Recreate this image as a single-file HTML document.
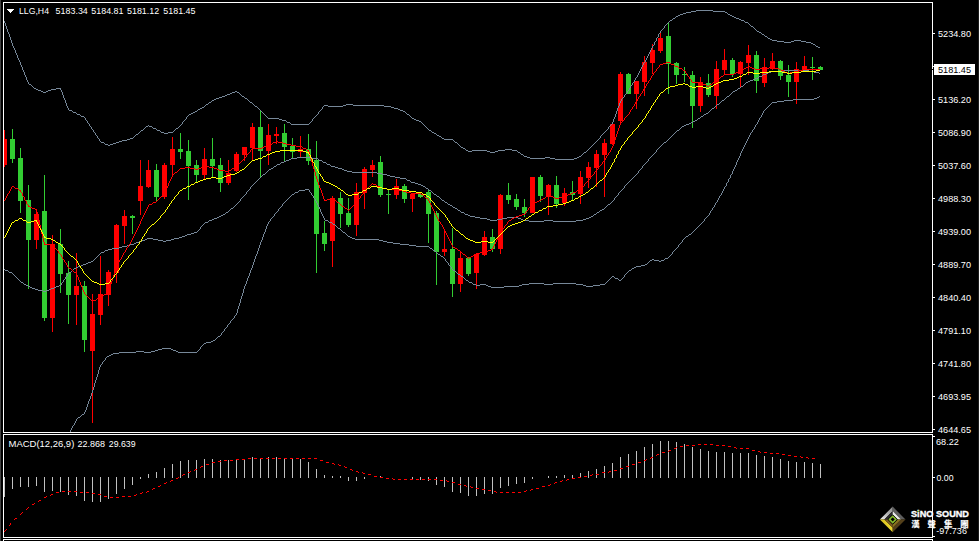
<!DOCTYPE html>
<html lang="zh-Hant"><head><meta charset="utf-8"><title>LLG,H4</title>
<style>
html,body{margin:0;padding:0;background:#000;}
body{width:979px;height:541px;overflow:hidden;position:relative;font-family:"Liberation Sans","Noto Sans CJK TC",sans-serif;}
svg{position:absolute;left:0;top:0;display:block}
.t{font-family:"Liberation Sans",sans-serif;font-size:9.7px;fill:#fff}
.cj{font-family:"Liberation Sans","Noto Sans CJK TC",sans-serif;font-weight:bold;font-size:8.4px;fill:#fff;stroke:#fff;stroke-width:0.2px}
</style></head><body>
<svg width="979" height="541" viewBox="0 0 979 541">
<rect x="0" y="0" width="979" height="541" fill="#000"/>
<rect x="0" y="0" width="1" height="541" fill="#404040"/>
<rect x="978" y="0" width="1" height="541" fill="#1c1c1c"/>
<g fill="none" stroke="#fff" stroke-width="1" shape-rendering="crispEdges">
<rect x="3.5" y="2.5" width="929" height="430"/>
<rect x="3.5" y="434.5" width="929" height="103"/>
<path d="M3.5 541V539.5H932.5V541"/>
<path d="M933 33.5H935M933 66.5H935M933 99.5H935M933 132.5H935M933 165.5H935M933 198.5H935M933 231.5H935M933 264.5H935M933 297.5H935M933 330.5H935M933 363.5H935M933 396.5H935M933 429.5H935M933 436.5H935M933 477.5H935M933 536.5H935"/>
</g>
<defs><clipPath id="c1"><rect x="4" y="3" width="928" height="429"/></clipPath><clipPath id="c2"><rect x="4" y="435" width="928" height="102"/></clipPath></defs>
<g clip-path="url(#c1)">
<g shape-rendering="crispEdges">
<rect x="4" y="130" width="1" height="37" fill="#FF0000"/>
<rect x="2" y="139" width="5" height="26" fill="#FF0000"/>
<rect x="12" y="129" width="1" height="34" fill="#32CD32"/>
<rect x="10" y="139" width="5" height="20" fill="#32CD32"/>
<rect x="20" y="148" width="1" height="65" fill="#32CD32"/>
<rect x="18" y="158" width="5" height="43" fill="#32CD32"/>
<rect x="28" y="185" width="1" height="104" fill="#32CD32"/>
<rect x="26" y="200" width="5" height="40" fill="#32CD32"/>
<rect x="36" y="209" width="1" height="40" fill="#FF0000"/>
<rect x="34" y="214" width="5" height="26" fill="#FF0000"/>
<rect x="44" y="175" width="1" height="146" fill="#32CD32"/>
<rect x="42" y="211" width="5" height="107" fill="#32CD32"/>
<rect x="52" y="235" width="1" height="97" fill="#FF0000"/>
<rect x="50" y="244" width="5" height="74" fill="#FF0000"/>
<rect x="60" y="229" width="1" height="64" fill="#32CD32"/>
<rect x="58" y="244" width="5" height="30" fill="#32CD32"/>
<rect x="68" y="261" width="1" height="63" fill="#32CD32"/>
<rect x="66" y="273" width="5" height="22" fill="#32CD32"/>
<rect x="76" y="253" width="1" height="72" fill="#FF0000"/>
<rect x="74" y="286" width="5" height="9" fill="#FF0000"/>
<rect x="84" y="281" width="1" height="71" fill="#32CD32"/>
<rect x="82" y="286" width="5" height="54" fill="#32CD32"/>
<rect x="92" y="294" width="1" height="129" fill="#FF0000"/>
<rect x="90" y="314" width="5" height="37" fill="#FF0000"/>
<rect x="100" y="256" width="1" height="69" fill="#FF0000"/>
<rect x="98" y="294" width="5" height="21" fill="#FF0000"/>
<rect x="108" y="270" width="1" height="36" fill="#FF0000"/>
<rect x="106" y="272" width="5" height="23" fill="#FF0000"/>
<rect x="116" y="224" width="1" height="59" fill="#FF0000"/>
<rect x="114" y="225" width="5" height="48" fill="#FF0000"/>
<rect x="124" y="210" width="1" height="34" fill="#FF0000"/>
<rect x="122" y="216" width="5" height="10" fill="#FF0000"/>
<rect x="132" y="215" width="1" height="19" fill="#32CD32"/>
<rect x="130" y="216" width="5" height="2" fill="#32CD32"/>
<rect x="140" y="160" width="1" height="55" fill="#FF0000"/>
<rect x="138" y="186" width="5" height="15" fill="#FF0000"/>
<rect x="148" y="160" width="1" height="28" fill="#FF0000"/>
<rect x="146" y="170" width="5" height="17" fill="#FF0000"/>
<rect x="156" y="164" width="1" height="38" fill="#32CD32"/>
<rect x="154" y="170" width="5" height="27" fill="#32CD32"/>
<rect x="164" y="163" width="1" height="36" fill="#FF0000"/>
<rect x="162" y="165" width="5" height="32" fill="#FF0000"/>
<rect x="172" y="137" width="1" height="39" fill="#FF0000"/>
<rect x="170" y="149" width="5" height="16" fill="#FF0000"/>
<rect x="180" y="133" width="1" height="26" fill="#32CD32"/>
<rect x="178" y="149" width="5" height="3" fill="#32CD32"/>
<rect x="188" y="140" width="1" height="60" fill="#32CD32"/>
<rect x="186" y="151" width="5" height="15" fill="#32CD32"/>
<rect x="196" y="160" width="1" height="23" fill="#32CD32"/>
<rect x="194" y="165" width="5" height="10" fill="#32CD32"/>
<rect x="204" y="148" width="1" height="31" fill="#FF0000"/>
<rect x="202" y="159" width="5" height="16" fill="#FF0000"/>
<rect x="212" y="138" width="1" height="39" fill="#32CD32"/>
<rect x="210" y="159" width="5" height="7" fill="#32CD32"/>
<rect x="220" y="158" width="1" height="34" fill="#32CD32"/>
<rect x="218" y="165" width="5" height="18" fill="#32CD32"/>
<rect x="228" y="160" width="1" height="25" fill="#FF0000"/>
<rect x="226" y="173" width="5" height="10" fill="#FF0000"/>
<rect x="236" y="152" width="1" height="20" fill="#FF0000"/>
<rect x="234" y="154" width="5" height="17" fill="#FF0000"/>
<rect x="244" y="147" width="1" height="14" fill="#FF0000"/>
<rect x="242" y="147" width="5" height="8" fill="#FF0000"/>
<rect x="252" y="123" width="1" height="37" fill="#FF0000"/>
<rect x="250" y="127" width="5" height="21" fill="#FF0000"/>
<rect x="260" y="110" width="1" height="67" fill="#32CD32"/>
<rect x="258" y="127" width="5" height="24" fill="#32CD32"/>
<rect x="268" y="124" width="1" height="41" fill="#FF0000"/>
<rect x="266" y="135" width="5" height="16" fill="#FF0000"/>
<rect x="276" y="127" width="1" height="17" fill="#FF0000"/>
<rect x="274" y="134" width="5" height="2" fill="#FF0000"/>
<rect x="284" y="124" width="1" height="37" fill="#32CD32"/>
<rect x="282" y="133" width="5" height="14" fill="#32CD32"/>
<rect x="292" y="138" width="1" height="21" fill="#32CD32"/>
<rect x="290" y="146" width="5" height="6" fill="#32CD32"/>
<rect x="300" y="136" width="1" height="21" fill="#FF0000"/>
<rect x="298" y="149" width="5" height="3" fill="#FF0000"/>
<rect x="308" y="134" width="1" height="31" fill="#32CD32"/>
<rect x="306" y="149" width="5" height="12" fill="#32CD32"/>
<rect x="316" y="141" width="1" height="132" fill="#32CD32"/>
<rect x="314" y="160" width="5" height="74" fill="#32CD32"/>
<rect x="324" y="221" width="1" height="30" fill="#32CD32"/>
<rect x="322" y="233" width="5" height="11" fill="#32CD32"/>
<rect x="332" y="196" width="1" height="71" fill="#FF0000"/>
<rect x="330" y="198" width="5" height="43" fill="#FF0000"/>
<rect x="340" y="192" width="1" height="36" fill="#32CD32"/>
<rect x="338" y="198" width="5" height="16" fill="#32CD32"/>
<rect x="348" y="198" width="1" height="29" fill="#32CD32"/>
<rect x="346" y="213" width="5" height="12" fill="#32CD32"/>
<rect x="356" y="183" width="1" height="53" fill="#FF0000"/>
<rect x="354" y="192" width="5" height="33" fill="#FF0000"/>
<rect x="364" y="167" width="1" height="42" fill="#FF0000"/>
<rect x="362" y="169" width="5" height="24" fill="#FF0000"/>
<rect x="372" y="160" width="1" height="17" fill="#FF0000"/>
<rect x="370" y="165" width="5" height="5" fill="#FF0000"/>
<rect x="380" y="156" width="1" height="41" fill="#32CD32"/>
<rect x="378" y="162" width="5" height="33" fill="#32CD32"/>
<rect x="388" y="190" width="1" height="24" fill="#32CD32"/>
<rect x="386" y="194" width="5" height="1" fill="#32CD32"/>
<rect x="396" y="179" width="1" height="20" fill="#FF0000"/>
<rect x="394" y="186" width="5" height="9" fill="#FF0000"/>
<rect x="404" y="184" width="1" height="19" fill="#32CD32"/>
<rect x="402" y="186" width="5" height="13" fill="#32CD32"/>
<rect x="412" y="193" width="1" height="19" fill="#FF0000"/>
<rect x="410" y="194" width="5" height="5" fill="#FF0000"/>
<rect x="420" y="193" width="1" height="5" fill="#32CD32"/>
<rect x="418" y="194" width="5" height="3" fill="#32CD32"/>
<rect x="428" y="190" width="1" height="53" fill="#32CD32"/>
<rect x="426" y="192" width="5" height="22" fill="#32CD32"/>
<rect x="436" y="211" width="1" height="74" fill="#32CD32"/>
<rect x="434" y="213" width="5" height="39" fill="#32CD32"/>
<rect x="444" y="231" width="1" height="25" fill="#FF0000"/>
<rect x="442" y="249" width="5" height="3" fill="#FF0000"/>
<rect x="452" y="228" width="1" height="69" fill="#32CD32"/>
<rect x="450" y="249" width="5" height="35" fill="#32CD32"/>
<rect x="460" y="251" width="1" height="41" fill="#FF0000"/>
<rect x="458" y="258" width="5" height="26" fill="#FF0000"/>
<rect x="468" y="257" width="1" height="19" fill="#32CD32"/>
<rect x="466" y="258" width="5" height="16" fill="#32CD32"/>
<rect x="476" y="253" width="1" height="36" fill="#FF0000"/>
<rect x="474" y="254" width="5" height="19" fill="#FF0000"/>
<rect x="484" y="231" width="1" height="25" fill="#FF0000"/>
<rect x="482" y="237" width="5" height="18" fill="#FF0000"/>
<rect x="492" y="229" width="1" height="23" fill="#32CD32"/>
<rect x="490" y="237" width="5" height="12" fill="#32CD32"/>
<rect x="500" y="194" width="1" height="60" fill="#FF0000"/>
<rect x="498" y="195" width="5" height="54" fill="#FF0000"/>
<rect x="508" y="183" width="1" height="21" fill="#32CD32"/>
<rect x="506" y="195" width="5" height="5" fill="#32CD32"/>
<rect x="516" y="194" width="1" height="16" fill="#32CD32"/>
<rect x="514" y="199" width="5" height="8" fill="#32CD32"/>
<rect x="524" y="199" width="1" height="18" fill="#32CD32"/>
<rect x="522" y="207" width="5" height="6" fill="#32CD32"/>
<rect x="532" y="177" width="1" height="36" fill="#FF0000"/>
<rect x="530" y="177" width="5" height="36" fill="#FF0000"/>
<rect x="540" y="175" width="1" height="27" fill="#32CD32"/>
<rect x="538" y="177" width="5" height="19" fill="#32CD32"/>
<rect x="548" y="184" width="1" height="31" fill="#FF0000"/>
<rect x="546" y="185" width="5" height="12" fill="#FF0000"/>
<rect x="556" y="176" width="1" height="32" fill="#32CD32"/>
<rect x="554" y="185" width="5" height="19" fill="#32CD32"/>
<rect x="564" y="188" width="1" height="18" fill="#FF0000"/>
<rect x="562" y="193" width="5" height="10" fill="#FF0000"/>
<rect x="572" y="181" width="1" height="20" fill="#32CD32"/>
<rect x="570" y="192" width="5" height="3" fill="#32CD32"/>
<rect x="580" y="171" width="1" height="33" fill="#FF0000"/>
<rect x="578" y="177" width="5" height="17" fill="#FF0000"/>
<rect x="588" y="162" width="1" height="26" fill="#FF0000"/>
<rect x="586" y="167" width="5" height="11" fill="#FF0000"/>
<rect x="596" y="150" width="1" height="37" fill="#FF0000"/>
<rect x="594" y="154" width="5" height="14" fill="#FF0000"/>
<rect x="604" y="139" width="1" height="58" fill="#FF0000"/>
<rect x="602" y="143" width="5" height="12" fill="#FF0000"/>
<rect x="612" y="124" width="1" height="21" fill="#FF0000"/>
<rect x="610" y="124" width="5" height="20" fill="#FF0000"/>
<rect x="620" y="72" width="1" height="52" fill="#FF0000"/>
<rect x="618" y="74" width="5" height="47" fill="#FF0000"/>
<rect x="628" y="73" width="1" height="21" fill="#32CD32"/>
<rect x="626" y="74" width="5" height="20" fill="#32CD32"/>
<rect x="636" y="81" width="1" height="28" fill="#FF0000"/>
<rect x="634" y="81" width="5" height="13" fill="#FF0000"/>
<rect x="644" y="56" width="1" height="40" fill="#FF0000"/>
<rect x="642" y="62" width="5" height="20" fill="#FF0000"/>
<rect x="652" y="44" width="1" height="30" fill="#FF0000"/>
<rect x="650" y="50" width="5" height="13" fill="#FF0000"/>
<rect x="660" y="31" width="1" height="22" fill="#FF0000"/>
<rect x="658" y="38" width="5" height="13" fill="#FF0000"/>
<rect x="668" y="23" width="1" height="71" fill="#32CD32"/>
<rect x="666" y="36" width="5" height="28" fill="#32CD32"/>
<rect x="676" y="62" width="1" height="22" fill="#32CD32"/>
<rect x="674" y="63" width="5" height="12" fill="#32CD32"/>
<rect x="684" y="67" width="1" height="15" fill="#32CD32"/>
<rect x="682" y="74" width="5" height="1" fill="#32CD32"/>
<rect x="692" y="71" width="1" height="57" fill="#32CD32"/>
<rect x="690" y="75" width="5" height="31" fill="#32CD32"/>
<rect x="700" y="77" width="1" height="35" fill="#FF0000"/>
<rect x="698" y="82" width="5" height="24" fill="#FF0000"/>
<rect x="708" y="74" width="1" height="23" fill="#32CD32"/>
<rect x="706" y="83" width="5" height="12" fill="#32CD32"/>
<rect x="716" y="61" width="1" height="48" fill="#FF0000"/>
<rect x="714" y="69" width="5" height="27" fill="#FF0000"/>
<rect x="724" y="49" width="1" height="25" fill="#FF0000"/>
<rect x="722" y="60" width="5" height="10" fill="#FF0000"/>
<rect x="732" y="58" width="1" height="19" fill="#32CD32"/>
<rect x="730" y="60" width="5" height="14" fill="#32CD32"/>
<rect x="740" y="61" width="1" height="26" fill="#FF0000"/>
<rect x="738" y="62" width="5" height="12" fill="#FF0000"/>
<rect x="748" y="45" width="1" height="30" fill="#FF0000"/>
<rect x="746" y="55" width="5" height="8" fill="#FF0000"/>
<rect x="756" y="51" width="1" height="42" fill="#32CD32"/>
<rect x="754" y="55" width="5" height="26" fill="#32CD32"/>
<rect x="764" y="58" width="1" height="29" fill="#FF0000"/>
<rect x="762" y="67" width="5" height="16" fill="#FF0000"/>
<rect x="772" y="53" width="1" height="17" fill="#FF0000"/>
<rect x="770" y="61" width="5" height="8" fill="#FF0000"/>
<rect x="780" y="60" width="1" height="20" fill="#32CD32"/>
<rect x="778" y="61" width="5" height="15" fill="#32CD32"/>
<rect x="788" y="65" width="1" height="32" fill="#32CD32"/>
<rect x="786" y="75" width="5" height="7" fill="#32CD32"/>
<rect x="796" y="62" width="1" height="42" fill="#FF0000"/>
<rect x="794" y="69" width="5" height="13" fill="#FF0000"/>
<rect x="804" y="56" width="1" height="15" fill="#FF0000"/>
<rect x="802" y="66" width="5" height="5" fill="#FF0000"/>
<rect x="812" y="57" width="1" height="23" fill="#32CD32"/>
<rect x="810" y="67" width="5" height="1" fill="#32CD32"/>
<rect x="820" y="66" width="1" height="4" fill="#32CD32"/>
<rect x="818" y="67" width="5" height="3" fill="#32CD32"/>
</g>
<g fill="none" stroke-width="1" shape-rendering="crispEdges">
<path fill="#778899" stroke="none" d="M745 22h3v1h-3zM751 26h2v1h-2zM757 31h2v1h-2zM759 32h2v1h-2zM762 34h2v1h-2zM765 36h2v1h-2zM768 38h2v1h-2zM770 39h2v1h-2zM772 40h5v1h-5zM794 40h7v1h-7zM777 41h7v1h-7zM791 41h3v1h-3zM801 41h5v1h-5zM784 42h7v1h-7zM806 42h5v1h-5zM811 43h2v1h-2zM813 44h2v1h-2zM816 46h2v1h-2zM818 47h2v1h-2zM29 84h2v1h-2zM34 88h2v1h-2zM56 88h5v1h-5zM36 89h2v1h-2zM51 89h5v1h-5zM38 90h3v1h-3zM48 90h3v1h-3zM41 91h2v1h-2zM46 91h2v1h-2zM235 91h2v1h-2zM43 92h3v1h-3zM232 92h3v1h-3zM237 92h2v1h-2zM230 93h2v1h-2zM227 94h3v1h-3zM225 95h2v1h-2zM222 96h3v1h-3zM242 96h2v1h-2zM219 97h3v1h-3zM216 98h3v1h-3zM245 98h2v1h-2zM214 99h2v1h-2zM212 100h2v1h-2zM209 102h2v1h-2zM250 102h2v1h-2zM206 104h2v1h-2zM346 104h7v1h-7zM324 105h4v1h-4zM343 105h3v1h-3zM353 105h31v1h-31zM255 106h2v1h-2zM328 106h15v1h-15zM384 106h7v1h-7zM202 107h2v1h-2zM391 107h3v1h-3zM200 108h2v1h-2zM394 108h4v1h-4zM198 109h2v1h-2zM398 109h2v1h-2zM69 110h3v1h-3zM400 110h3v1h-3zM195 111h2v1h-2zM403 111h2v1h-2zM73 112h3v1h-3zM193 112h2v1h-2zM191 113h2v1h-2zM77 114h3v1h-3zM189 114h2v1h-2zM407 114h2v1h-2zM81 116h3v1h-3zM268 118h11v1h-11zM412 118h2v1h-2zM279 119h3v1h-3zM414 119h2v1h-2zM282 120h4v1h-4zM416 120h3v1h-3zM419 121h2v1h-2zM287 122h3v1h-3zM291 124h18v1h-18zM146 126h2v1h-2zM149 126h3v1h-3zM153 128h3v1h-3zM176 128h2v1h-2zM141 130h2v1h-2zM157 130h3v1h-3zM429 130h2v1h-2zM161 132h3v1h-3zM168 132h5v1h-5zM432 132h2v1h-2zM164 133h4v1h-4zM434 133h2v1h-2zM136 134h2v1h-2zM437 135h2v1h-2zM439 136h2v1h-2zM130 138h3v1h-3zM442 138h2v1h-2zM127 139h3v1h-3zM444 139h9v1h-9zM122 140h5v1h-5zM119 141h3v1h-3zM101 142h3v1h-3zM116 142h3v1h-3zM455 142h2v1h-2zM113 143h3v1h-3zM105 144h3v1h-3zM110 144h3v1h-3zM108 145h2v1h-2zM461 147h2v1h-2zM463 148h2v1h-2zM505 149h7v1h-7zM466 150h2v1h-2zM472 150h15v1h-15zM498 150h7v1h-7zM512 150h5v1h-5zM468 151h4v1h-4zM487 151h3v1h-3zM495 151h3v1h-3zM490 152h5v1h-5zM518 152h2v1h-2zM584 152h2v1h-2zM521 154h2v1h-2zM524 156h3v1h-3zM579 156h2v1h-2zM527 157h3v1h-3zM545 157h5v1h-5zM577 157h2v1h-2zM530 158h15v1h-15zM550 158h5v1h-5zM574 158h3v1h-3zM555 159h19v1h-19zM670 20h2v1h-2zM741 20h3v1h-3zM739 19h2v1h-2zM673 18h2v1h-2zM736 18h3v1h-3zM734 17h2v1h-2zM676 16h2v1h-2zM732 16h2v1h-2zM678 15h2v1h-2zM730 15h2v1h-2zM680 14h3v1h-3zM728 14h2v1h-2zM683 13h3v1h-3zM686 12h5v1h-5zM725 12h2v1h-2zM691 11h5v1h-5zM713 11h12v1h-12zM696 10h17v1h-17zM4 21h1v2h-1zM669 21h1v1h-1zM744 21h1v1h-1zM668 22h1v1h-1zM5 23h1v3h-1zM667 23h1v1h-1zM748 23h1v1h-1zM666 24h1v1h-1zM749 24h1v1h-1zM665 25h1v1h-1zM750 25h1v1h-1zM6 26h1v3h-1zM664 26h1v2h-1zM753 27h1v1h-1zM663 28h1v1h-1zM754 28h1v1h-1zM7 29h1v3h-1zM662 29h1v1h-1zM755 29h1v1h-1zM661 30h1v1h-1zM756 30h1v1h-1zM660 31h1v2h-1zM8 32h1v2h-1zM659 33h1v1h-1zM761 33h1v1h-1zM9 34h1v3h-1zM658 34h1v3h-1zM764 35h1v1h-1zM10 37h1v3h-1zM657 37h1v1h-1zM767 37h1v1h-1zM656 38h1v3h-1zM11 40h1v3h-1zM655 41h1v1h-1zM654 42h1v3h-1zM12 43h1v3h-1zM653 45h1v1h-1zM815 45h1v1h-1zM13 46h1v2h-1zM652 46h1v2h-1zM14 48h1v2h-1zM651 48h1v2h-1zM15 50h1v3h-1zM650 50h1v2h-1zM649 52h1v2h-1zM16 53h1v2h-1zM648 54h1v2h-1zM17 55h1v3h-1zM647 56h1v2h-1zM18 58h1v2h-1zM646 58h1v2h-1zM19 60h1v2h-1zM645 60h1v2h-1zM20 62h1v3h-1zM644 62h1v1h-1zM643 63h1v2h-1zM21 65h1v2h-1zM642 65h1v2h-1zM22 67h1v3h-1zM641 67h1v2h-1zM640 69h1v2h-1zM23 70h1v2h-1zM639 71h1v2h-1zM24 72h1v3h-1zM638 73h1v2h-1zM25 75h1v2h-1zM637 75h1v2h-1zM26 77h1v3h-1zM636 77h1v1h-1zM635 78h1v2h-1zM27 80h1v2h-1zM634 80h1v2h-1zM28 82h1v2h-1zM633 82h1v1h-1zM632 83h1v2h-1zM31 85h1v1h-1zM631 85h1v1h-1zM32 86h1v1h-1zM630 86h1v2h-1zM33 87h1v1h-1zM629 88h1v2h-1zM60 89h1v1h-1zM61 90h1v2h-1zM628 90h1v1h-1zM627 91h1v2h-1zM62 92h1v3h-1zM239 93h1v1h-1zM626 93h1v1h-1zM240 94h1v1h-1zM625 94h1v1h-1zM63 95h1v3h-1zM241 95h1v1h-1zM624 95h1v2h-1zM244 97h1v1h-1zM623 97h1v1h-1zM64 98h1v2h-1zM622 98h1v1h-1zM247 99h1v1h-1zM621 99h1v2h-1zM65 100h1v3h-1zM248 100h1v1h-1zM211 101h1v1h-1zM249 101h1v1h-1zM620 101h1v2h-1zM66 103h1v3h-1zM208 103h1v1h-1zM252 103h1v1h-1zM619 103h1v3h-1zM253 104h1v1h-1zM205 105h1v1h-1zM254 105h1v1h-1zM67 106h1v2h-1zM204 106h1v1h-1zM323 106h1v1h-1zM618 106h1v2h-1zM257 107h1v1h-1zM322 107h1v2h-1zM68 108h1v2h-1zM258 108h1v1h-1zM617 108h1v3h-1zM259 109h1v1h-1zM321 109h1v1h-1zM197 110h1v1h-1zM260 110h1v1h-1zM320 110h1v1h-1zM72 111h1v1h-1zM261 111h1v1h-1zM319 111h1v1h-1zM616 111h1v3h-1zM262 112h1v1h-1zM318 112h1v2h-1zM405 112h1v1h-1zM76 113h1v1h-1zM263 113h1v1h-1zM406 113h1v1h-1zM264 114h1v1h-1zM317 114h1v1h-1zM615 114h1v3h-1zM80 115h1v1h-1zM188 115h1v1h-1zM265 115h1v1h-1zM316 115h1v1h-1zM409 115h1v1h-1zM187 116h1v1h-1zM266 116h1v1h-1zM315 116h1v1h-1zM410 116h1v1h-1zM84 117h1v1h-1zM186 117h1v2h-1zM267 117h1v1h-1zM314 117h1v1h-1zM411 117h1v1h-1zM614 117h1v2h-1zM85 118h1v2h-1zM313 118h1v1h-1zM185 119h1v1h-1zM312 119h1v2h-1zM613 119h1v3h-1zM86 120h1v1h-1zM184 120h1v1h-1zM87 121h1v2h-1zM183 121h1v1h-1zM286 121h1v1h-1zM311 121h1v1h-1zM182 122h1v2h-1zM310 122h1v1h-1zM421 122h1v1h-1zM612 122h1v2h-1zM88 123h1v1h-1zM290 123h1v1h-1zM309 123h1v1h-1zM422 123h1v1h-1zM89 124h1v2h-1zM181 124h1v1h-1zM423 124h1v1h-1zM611 124h1v1h-1zM148 125h1v1h-1zM180 125h1v1h-1zM424 125h1v1h-1zM610 125h1v1h-1zM90 126h1v1h-1zM179 126h1v1h-1zM425 126h1v1h-1zM609 126h1v1h-1zM91 127h1v2h-1zM145 127h1v1h-1zM152 127h1v1h-1zM178 127h1v1h-1zM426 127h1v1h-1zM608 127h1v2h-1zM144 128h1v1h-1zM427 128h1v1h-1zM92 129h1v1h-1zM143 129h1v1h-1zM156 129h1v1h-1zM175 129h1v1h-1zM428 129h1v1h-1zM607 129h1v1h-1zM93 130h1v2h-1zM174 130h1v1h-1zM606 130h1v1h-1zM140 131h1v1h-1zM160 131h1v1h-1zM173 131h1v1h-1zM431 131h1v1h-1zM605 131h1v1h-1zM94 132h1v1h-1zM139 132h1v1h-1zM604 132h1v1h-1zM95 133h1v2h-1zM138 133h1v1h-1zM603 133h1v1h-1zM436 134h1v1h-1zM602 134h1v1h-1zM96 135h1v1h-1zM135 135h1v1h-1zM601 135h1v1h-1zM97 136h1v2h-1zM134 136h1v1h-1zM600 136h1v2h-1zM133 137h1v1h-1zM441 137h1v1h-1zM98 138h1v1h-1zM599 138h1v1h-1zM99 139h1v2h-1zM598 139h1v1h-1zM453 140h1v1h-1zM597 140h1v1h-1zM100 141h1v1h-1zM454 141h1v1h-1zM596 141h1v1h-1zM595 142h1v1h-1zM104 143h1v1h-1zM457 143h1v1h-1zM594 143h1v1h-1zM458 144h1v1h-1zM593 144h1v1h-1zM459 145h1v1h-1zM592 145h1v1h-1zM460 146h1v1h-1zM591 146h1v1h-1zM590 147h1v1h-1zM589 148h1v1h-1zM465 149h1v1h-1zM588 149h1v1h-1zM587 150h1v1h-1zM517 151h1v1h-1zM586 151h1v1h-1zM520 153h1v1h-1zM583 153h1v1h-1zM582 154h1v1h-1zM523 155h1v1h-1zM581 155h1v1h-1zM672 19h1v1h-1zM675 17h1v1h-1zM727 13h1v1h-1z"/>
<path fill="#778899" stroke="none" d="M5 270h3v1h-3zM9 272h3v1h-3zM69 272h2v1h-2zM21 282h2v1h-2zM24 284h2v1h-2zM26 285h2v1h-2zM59 285h2v1h-2zM28 286h2v1h-2zM56 286h3v1h-3zM30 287h2v1h-2zM54 287h2v1h-2zM32 288h3v1h-3zM51 288h3v1h-3zM35 289h3v1h-3zM49 289h2v1h-2zM38 290h5v1h-5zM46 290h3v1h-3zM43 291h3v1h-3zM74 268h2v1h-2zM76 267h2v1h-2zM78 266h3v1h-3zM81 265h2v1h-2zM83 264h3v1h-3zM86 263h2v1h-2zM88 262h3v1h-3zM91 261h2v1h-2zM101 252h3v1h-3zM105 250h3v1h-3zM108 249h4v1h-4zM112 248h7v1h-7zM119 247h3v1h-3zM122 246h5v1h-5zM127 245h3v1h-3zM130 244h4v1h-4zM134 243h2v1h-2zM136 242h3v1h-3zM139 241h3v1h-3zM163 241h3v1h-3zM142 240h3v1h-3zM158 240h5v1h-5zM166 240h5v1h-5zM145 239h2v1h-2zM153 239h5v1h-5zM171 239h3v1h-3zM147 238h6v1h-6zM174 238h5v1h-5zM179 237h3v1h-3zM182 236h3v1h-3zM185 235h2v1h-2zM187 234h4v1h-4zM191 233h3v1h-3zM194 232h3v1h-3zM205 222h3v1h-3zM529 221h15v1h-15zM553 221h23v1h-23zM209 220h3v1h-3zM490 220h7v1h-7zM523 220h6v1h-6zM544 220h9v1h-9zM576 220h7v1h-7zM212 219h2v1h-2zM487 219h3v1h-3zM497 219h5v1h-5zM521 219h2v1h-2zM583 219h3v1h-3zM214 218h3v1h-3zM480 218h7v1h-7zM502 218h5v1h-5zM518 218h3v1h-3zM586 218h3v1h-3zM217 217h2v1h-2zM475 217h5v1h-5zM507 217h11v1h-11zM589 217h2v1h-2zM219 216h2v1h-2zM470 216h5v1h-5zM591 216h2v1h-2zM221 215h2v1h-2zM468 215h2v1h-2zM223 214h2v1h-2zM465 214h3v1h-3zM594 214h2v1h-2zM226 212h2v1h-2zM461 212h3v1h-3zM597 212h2v1h-2zM458 210h2v1h-2zM600 210h2v1h-2zM602 209h2v1h-2zM231 208h2v1h-2zM455 208h2v1h-2zM453 207h2v1h-2zM450 205h2v1h-2zM448 204h2v1h-2zM608 204h2v1h-2zM445 202h2v1h-2zM442 200h2v1h-2zM437 196h2v1h-2zM434 194h2v1h-2zM429 190h2v1h-2zM426 188h2v1h-2zM423 186h2v1h-2zM421 185h2v1h-2zM418 184h3v1h-3zM415 183h3v1h-3zM411 182h4v1h-4zM407 180h3v1h-3zM400 178h6v1h-6zM395 177h5v1h-5zM390 176h5v1h-5zM387 175h3v1h-3zM263 174h2v1h-2zM382 174h5v1h-5zM377 173h5v1h-5zM352 172h25v1h-25zM347 171h5v1h-5zM344 170h3v1h-3zM269 169h2v1h-2zM342 169h2v1h-2zM271 168h2v1h-2zM338 168h4v1h-4zM335 167h3v1h-3zM274 166h2v1h-2zM331 166h4v1h-4zM277 164h3v1h-3zM327 164h3v1h-3zM281 162h3v1h-3zM323 162h3v1h-3zM284 161h2v1h-2zM286 160h3v1h-3zM319 160h3v1h-3zM289 159h2v1h-2zM291 158h6v1h-6zM312 158h6v1h-6zM297 157h15v1h-15zM664 142h2v1h-2zM677 130h2v1h-2zM682 126h2v1h-2zM684 125h2v1h-2zM686 124h3v1h-3zM689 123h2v1h-2zM691 122h2v1h-2zM693 121h2v1h-2zM695 120h2v1h-2zM698 118h2v1h-2zM701 116h2v1h-2zM704 114h2v1h-2zM706 113h2v1h-2zM712 108h2v1h-2zM717 104h2v1h-2zM722 100h2v1h-2zM727 96h2v1h-2zM733 91h2v1h-2zM735 90h2v1h-2zM738 88h2v1h-2zM741 86h2v1h-2zM746 82h2v1h-2zM748 81h2v1h-2zM750 80h3v1h-3zM753 79h2v1h-2zM755 78h3v1h-3zM759 76h3v1h-3zM763 74h3v1h-3zM766 73h2v1h-2zM768 72h3v1h-3zM814 72h5v1h-5zM771 71h13v1h-13zM809 71h5v1h-5zM784 70h25v1h-25zM4 269h1v1h-1zM73 269h1v1h-1zM72 270h1v1h-1zM8 271h1v1h-1zM71 271h1v1h-1zM12 273h1v1h-1zM68 273h1v1h-1zM13 274h1v1h-1zM67 274h1v2h-1zM14 275h1v1h-1zM15 276h1v1h-1zM66 276h1v1h-1zM16 277h1v1h-1zM65 277h1v2h-1zM17 278h1v1h-1zM18 279h1v1h-1zM64 279h1v1h-1zM19 280h1v1h-1zM63 280h1v2h-1zM20 281h1v1h-1zM62 282h1v1h-1zM23 283h1v1h-1zM61 283h1v2h-1zM93 260h1v1h-1zM94 259h1v1h-1zM95 258h1v1h-1zM96 257h1v1h-1zM97 256h1v1h-1zM98 255h1v1h-1zM99 254h1v1h-1zM100 253h1v1h-1zM104 251h1v1h-1zM197 231h1v1h-1zM198 230h1v1h-1zM199 229h1v1h-1zM200 227h1v2h-1zM201 226h1v1h-1zM202 225h1v1h-1zM203 224h1v1h-1zM204 223h1v1h-1zM208 221h1v1h-1zM593 215h1v1h-1zM225 213h1v1h-1zM464 213h1v1h-1zM596 213h1v1h-1zM228 211h1v1h-1zM460 211h1v1h-1zM599 211h1v1h-1zM229 210h1v1h-1zM230 209h1v1h-1zM457 209h1v1h-1zM604 208h1v1h-1zM233 207h1v1h-1zM605 207h1v1h-1zM234 206h1v1h-1zM452 206h1v1h-1zM606 206h1v1h-1zM235 205h1v1h-1zM607 205h1v1h-1zM236 204h1v1h-1zM237 203h1v1h-1zM447 203h1v1h-1zM610 203h1v1h-1zM238 202h1v1h-1zM611 202h1v1h-1zM239 201h1v1h-1zM444 201h1v1h-1zM612 201h1v1h-1zM240 199h1v2h-1zM613 200h1v1h-1zM441 199h1v1h-1zM614 198h1v2h-1zM241 198h1v1h-1zM440 198h1v1h-1zM242 197h1v1h-1zM439 197h1v1h-1zM615 197h1v1h-1zM243 196h1v1h-1zM616 196h1v1h-1zM244 195h1v1h-1zM436 195h1v1h-1zM617 195h1v1h-1zM245 194h1v1h-1zM618 193h1v2h-1zM246 192h1v2h-1zM433 193h1v1h-1zM432 192h1v1h-1zM619 192h1v1h-1zM247 191h1v1h-1zM431 191h1v1h-1zM620 191h1v1h-1zM248 190h1v1h-1zM621 190h1v1h-1zM249 189h1v1h-1zM428 189h1v1h-1zM622 189h1v1h-1zM250 187h1v2h-1zM623 188h1v1h-1zM425 187h1v1h-1zM624 186h1v2h-1zM251 186h1v1h-1zM252 185h1v1h-1zM625 185h1v1h-1zM253 184h1v1h-1zM626 184h1v1h-1zM254 183h1v1h-1zM627 183h1v1h-1zM255 182h1v1h-1zM628 182h1v1h-1zM256 181h1v1h-1zM410 181h1v1h-1zM629 181h1v1h-1zM257 180h1v1h-1zM630 180h1v1h-1zM258 179h1v1h-1zM406 179h1v1h-1zM631 179h1v1h-1zM259 178h1v1h-1zM632 178h1v1h-1zM260 177h1v1h-1zM633 177h1v1h-1zM261 176h1v1h-1zM634 176h1v1h-1zM262 175h1v1h-1zM635 175h1v1h-1zM636 174h1v1h-1zM265 173h1v1h-1zM637 173h1v1h-1zM266 172h1v1h-1zM638 171h1v2h-1zM267 171h1v1h-1zM268 170h1v1h-1zM639 170h1v1h-1zM640 169h1v1h-1zM641 168h1v1h-1zM273 167h1v1h-1zM642 166h1v2h-1zM276 165h1v1h-1zM330 165h1v1h-1zM643 165h1v1h-1zM644 164h1v1h-1zM280 163h1v1h-1zM326 163h1v1h-1zM645 163h1v1h-1zM646 162h1v1h-1zM322 161h1v1h-1zM647 161h1v1h-1zM648 159h1v2h-1zM318 159h1v1h-1zM649 158h1v1h-1zM650 157h1v1h-1zM651 156h1v1h-1zM652 155h1v1h-1zM653 154h1v1h-1zM654 153h1v1h-1zM655 152h1v1h-1zM656 150h1v2h-1zM657 149h1v1h-1zM658 148h1v1h-1zM659 147h1v1h-1zM660 146h1v1h-1zM661 145h1v1h-1zM662 144h1v1h-1zM663 143h1v1h-1zM666 141h1v1h-1zM667 140h1v1h-1zM668 139h1v1h-1zM669 138h1v1h-1zM670 137h1v1h-1zM671 136h1v1h-1zM672 135h1v1h-1zM673 134h1v1h-1zM674 133h1v1h-1zM675 132h1v1h-1zM676 131h1v1h-1zM679 129h1v1h-1zM680 128h1v1h-1zM681 127h1v1h-1zM697 119h1v1h-1zM700 117h1v1h-1zM703 115h1v1h-1zM708 112h1v1h-1zM709 111h1v1h-1zM710 110h1v1h-1zM711 109h1v1h-1zM714 107h1v1h-1zM715 106h1v1h-1zM716 105h1v1h-1zM719 103h1v1h-1zM720 102h1v1h-1zM721 101h1v1h-1zM724 99h1v1h-1zM725 98h1v1h-1zM726 97h1v1h-1zM729 95h1v1h-1zM730 94h1v1h-1zM731 93h1v1h-1zM732 92h1v1h-1zM737 89h1v1h-1zM740 87h1v1h-1zM743 85h1v1h-1zM744 84h1v1h-1zM745 83h1v1h-1zM758 77h1v1h-1zM762 75h1v1h-1zM819 73h1v1h-1z"/>
<path fill="#778899" stroke="none" d="M78 417h2v1h-2zM82 414h2v1h-2zM107 356h2v1h-2zM109 355h2v1h-2zM111 354h2v1h-2zM113 353h6v1h-6zM119 352h17v1h-17zM144 352h7v1h-7zM178 352h19v1h-19zM136 351h8v1h-8zM151 351h4v1h-4zM176 351h2v1h-2zM155 350h3v1h-3zM173 350h3v1h-3zM158 349h4v1h-4zM171 349h2v1h-2zM162 348h9v1h-9zM204 343h2v1h-2zM206 342h5v1h-5zM211 341h2v1h-2zM213 340h2v1h-2zM218 336h2v1h-2zM491 287h13v1h-13zM488 286h3v1h-3zM504 286h15v1h-15zM586 286h7v1h-7zM476 285h4v1h-4zM486 285h2v1h-2zM519 285h3v1h-3zM583 285h3v1h-3zM593 285h7v1h-7zM473 284h3v1h-3zM480 284h6v1h-6zM522 284h7v1h-7zM544 284h9v1h-9zM576 284h7v1h-7zM600 284h5v1h-5zM529 283h15v1h-15zM553 283h23v1h-23zM469 282h3v1h-3zM466 280h2v1h-2zM619 280h2v1h-2zM615 278h3v1h-3zM461 276h2v1h-2zM612 276h2v1h-2zM458 274h2v1h-2zM453 270h2v1h-2zM629 270h2v1h-2zM632 268h2v1h-2zM634 267h2v1h-2zM636 266h5v1h-5zM641 265h4v1h-4zM645 264h2v1h-2zM659 261h2v1h-2zM650 260h2v1h-2zM654 260h5v1h-5zM661 260h3v1h-3zM652 259h2v1h-2zM665 258h3v1h-3zM441 256h2v1h-2zM438 254h2v1h-2zM433 250h2v1h-2zM430 248h2v1h-2zM416 246h13v1h-13zM409 245h7v1h-7zM400 244h9v1h-9zM393 243h7v1h-7zM387 242h6v1h-6zM383 241h4v1h-4zM379 240h4v1h-4zM355 239h24v1h-24zM352 238h3v1h-3zM350 237h2v1h-2zM348 236h2v1h-2zM686 236h2v1h-2zM689 234h2v1h-2zM343 232h2v1h-2zM338 228h2v1h-2zM333 224h2v1h-2zM329 222h3v1h-3zM325 220h3v1h-3zM292 194h2v1h-2zM295 192h3v1h-3zM299 190h6v1h-6zM305 189h4v1h-4zM772 102h5v1h-5zM777 101h7v1h-7zM784 100h9v1h-9zM793 99h21v1h-21zM814 98h3v1h-3zM817 97h2v1h-2zM70 430h1v2h-1zM71 428h1v2h-1zM72 426h1v2h-1zM73 425h1v1h-1zM74 423h1v2h-1zM75 421h1v2h-1zM76 419h1v2h-1zM77 418h1v1h-1zM80 416h1v1h-1zM81 415h1v1h-1zM84 412h1v2h-1zM85 410h1v2h-1zM86 407h1v3h-1zM87 404h1v3h-1zM88 401h1v3h-1zM89 399h1v2h-1zM90 396h1v3h-1zM91 393h1v3h-1zM92 390h1v3h-1zM93 387h1v3h-1zM94 383h1v4h-1zM95 380h1v3h-1zM96 377h1v3h-1zM97 374h1v3h-1zM98 370h1v4h-1zM99 367h1v3h-1zM100 365h1v2h-1zM101 364h1v1h-1zM102 362h1v2h-1zM103 361h1v1h-1zM104 360h1v1h-1zM105 358h1v2h-1zM106 357h1v1h-1zM197 351h1v1h-1zM198 350h1v1h-1zM199 349h1v1h-1zM200 347h1v2h-1zM201 346h1v1h-1zM202 345h1v1h-1zM203 344h1v1h-1zM215 339h1v1h-1zM216 338h1v1h-1zM217 337h1v1h-1zM220 335h1v1h-1zM221 333h1v2h-1zM222 332h1v1h-1zM223 331h1v1h-1zM224 329h1v2h-1zM225 328h1v1h-1zM226 327h1v1h-1zM227 325h1v2h-1zM228 324h1v1h-1zM229 323h1v1h-1zM230 321h1v2h-1zM231 320h1v1h-1zM232 319h1v1h-1zM233 318h1v1h-1zM234 316h1v2h-1zM235 315h1v1h-1zM236 313h1v2h-1zM237 309h1v4h-1zM238 306h1v3h-1zM239 303h1v3h-1zM240 299h1v4h-1zM241 296h1v3h-1zM242 293h1v3h-1zM243 289h1v4h-1zM244 286h1v3h-1zM245 284h1v2h-1zM246 281h1v3h-1zM472 283h1v1h-1zM605 283h1v1h-1zM606 282h1v1h-1zM468 281h1v1h-1zM607 281h1v1h-1zM247 278h1v3h-1zM608 280h1v1h-1zM465 279h1v1h-1zM609 279h1v1h-1zM618 279h1v1h-1zM621 279h1v1h-1zM464 278h1v1h-1zM610 278h1v1h-1zM622 278h1v1h-1zM248 276h1v2h-1zM463 277h1v1h-1zM611 277h1v1h-1zM614 277h1v1h-1zM623 277h1v1h-1zM624 275h1v2h-1zM249 273h1v3h-1zM460 275h1v1h-1zM625 274h1v1h-1zM457 273h1v1h-1zM626 273h1v1h-1zM250 270h1v3h-1zM456 272h1v1h-1zM627 272h1v1h-1zM455 271h1v1h-1zM628 271h1v1h-1zM251 268h1v2h-1zM452 269h1v1h-1zM631 269h1v1h-1zM451 267h1v2h-1zM252 265h1v3h-1zM450 266h1v1h-1zM449 265h1v1h-1zM253 262h1v3h-1zM448 263h1v2h-1zM647 263h1v1h-1zM447 262h1v1h-1zM648 262h1v1h-1zM254 259h1v3h-1zM446 261h1v1h-1zM649 261h1v1h-1zM445 259h1v2h-1zM664 259h1v1h-1zM255 256h1v3h-1zM444 258h1v1h-1zM443 257h1v1h-1zM668 257h1v1h-1zM669 256h1v1h-1zM256 254h1v2h-1zM440 255h1v1h-1zM670 255h1v1h-1zM671 254h1v1h-1zM257 251h1v3h-1zM437 253h1v1h-1zM672 252h1v2h-1zM436 252h1v1h-1zM435 251h1v1h-1zM673 251h1v1h-1zM258 248h1v3h-1zM674 250h1v1h-1zM432 249h1v1h-1zM675 249h1v1h-1zM676 248h1v1h-1zM259 245h1v3h-1zM429 247h1v1h-1zM677 247h1v1h-1zM678 245h1v2h-1zM260 242h1v3h-1zM679 244h1v1h-1zM680 243h1v1h-1zM681 242h1v1h-1zM261 240h1v2h-1zM682 240h1v2h-1zM262 237h1v3h-1zM683 239h1v1h-1zM684 238h1v1h-1zM685 237h1v1h-1zM263 234h1v3h-1zM347 235h1v1h-1zM688 235h1v1h-1zM346 234h1v1h-1zM264 232h1v2h-1zM345 233h1v1h-1zM691 233h1v1h-1zM692 232h1v1h-1zM265 229h1v3h-1zM342 231h1v1h-1zM693 231h1v1h-1zM341 230h1v1h-1zM694 230h1v1h-1zM340 229h1v1h-1zM695 229h1v1h-1zM266 226h1v3h-1zM696 228h1v1h-1zM337 227h1v1h-1zM697 227h1v1h-1zM336 226h1v1h-1zM698 226h1v1h-1zM267 224h1v2h-1zM335 225h1v1h-1zM699 225h1v1h-1zM700 224h1v1h-1zM268 222h1v2h-1zM332 223h1v1h-1zM701 223h1v1h-1zM702 222h1v1h-1zM269 221h1v1h-1zM328 221h1v1h-1zM703 221h1v1h-1zM270 219h1v2h-1zM704 219h1v2h-1zM324 218h1v2h-1zM271 218h1v1h-1zM705 218h1v1h-1zM272 217h1v1h-1zM323 216h1v2h-1zM706 217h1v1h-1zM273 216h1v1h-1zM707 216h1v1h-1zM274 214h1v2h-1zM322 214h1v2h-1zM708 215h1v1h-1zM709 213h1v2h-1zM275 213h1v1h-1zM321 212h1v2h-1zM276 212h1v1h-1zM710 211h1v2h-1zM277 211h1v1h-1zM320 209h1v3h-1zM278 209h1v2h-1zM711 210h1v1h-1zM712 208h1v2h-1zM279 208h1v1h-1zM319 207h1v2h-1zM280 207h1v1h-1zM713 207h1v1h-1zM281 206h1v1h-1zM318 205h1v2h-1zM714 205h1v2h-1zM282 204h1v2h-1zM317 203h1v2h-1zM715 203h1v2h-1zM283 203h1v1h-1zM284 202h1v1h-1zM316 201h1v2h-1zM716 202h1v1h-1zM285 201h1v1h-1zM717 200h1v2h-1zM286 200h1v1h-1zM315 199h1v2h-1zM287 199h1v1h-1zM718 198h1v2h-1zM288 198h1v1h-1zM314 198h1v1h-1zM289 197h1v1h-1zM313 196h1v2h-1zM719 196h1v2h-1zM290 196h1v1h-1zM291 195h1v1h-1zM312 195h1v1h-1zM720 195h1v1h-1zM311 193h1v2h-1zM721 193h1v2h-1zM294 193h1v1h-1zM310 192h1v1h-1zM722 191h1v2h-1zM298 191h1v1h-1zM309 190h1v2h-1zM723 189h1v2h-1zM724 187h1v2h-1zM725 186h1v1h-1zM726 183h1v3h-1zM727 182h1v1h-1zM728 179h1v3h-1zM729 178h1v1h-1zM730 175h1v3h-1zM731 174h1v1h-1zM732 171h1v3h-1zM733 169h1v2h-1zM734 167h1v2h-1zM735 165h1v2h-1zM736 162h1v3h-1zM737 160h1v2h-1zM738 158h1v2h-1zM739 156h1v2h-1zM740 153h1v3h-1zM741 151h1v2h-1zM742 149h1v2h-1zM743 147h1v2h-1zM744 145h1v2h-1zM745 143h1v2h-1zM746 141h1v2h-1zM747 139h1v2h-1zM748 137h1v2h-1zM749 135h1v2h-1zM750 133h1v2h-1zM751 132h1v1h-1zM752 130h1v2h-1zM753 129h1v1h-1zM754 127h1v2h-1zM755 125h1v2h-1zM756 124h1v1h-1zM757 122h1v2h-1zM758 120h1v2h-1zM759 118h1v2h-1zM760 117h1v1h-1zM761 115h1v2h-1zM762 113h1v2h-1zM763 111h1v2h-1zM764 110h1v1h-1zM765 109h1v1h-1zM766 108h1v1h-1zM767 107h1v1h-1zM768 106h1v1h-1zM769 105h1v1h-1zM770 104h1v1h-1zM771 103h1v1h-1zM819 96h1v1h-1z"/>
</g>
<g fill="none" stroke-width="1" shape-rendering="crispEdges">
<path fill="#FF0000" stroke="none" d="M324 200h3v1h-3zM334 200h2v1h-2zM539 200h2v1h-2zM327 199h3v1h-3zM541 199h2v1h-2zM330 198h3v1h-3zM426 198h2v1h-2zM543 198h2v1h-2zM555 198h4v1h-4zM553 197h2v1h-2zM559 197h3v1h-3zM546 196h2v1h-2zM550 196h3v1h-3zM562 196h4v1h-4zM548 195h2v1h-2zM566 195h2v1h-2zM421 194h2v1h-2zM568 194h3v1h-3zM411 193h10v1h-10zM571 193h2v1h-2zM406 192h5v1h-5zM573 192h3v1h-3zM403 191h3v1h-3zM19 190h2v1h-2zM398 190h5v1h-5zM577 190h3v1h-3zM387 189h11v1h-11zM15 188h3v1h-3zM382 188h5v1h-5zM380 187h2v1h-2zM12 186h2v1h-2zM377 186h3v1h-3zM537 201h2v1h-2zM153 202h3v1h-3zM337 202h2v1h-2zM534 202h3v1h-3zM532 203h2v1h-2zM149 204h3v1h-3zM28 206h2v1h-2zM342 206h2v1h-2zM30 207h2v1h-2zM32 208h3v1h-3zM345 208h2v1h-2zM35 209h2v1h-2zM522 214h3v1h-3zM519 215h3v1h-3zM516 216h3v1h-3zM514 217h2v1h-2zM512 218h2v1h-2zM509 220h2v1h-2zM44 244h9v1h-9zM453 247h2v1h-2zM455 248h2v1h-2zM491 249h2v1h-2zM458 250h2v1h-2zM488 250h3v1h-3zM486 251h2v1h-2zM480 252h6v1h-6zM476 253h4v1h-4zM463 254h2v1h-2zM474 254h2v1h-2zM471 256h2v1h-2zM469 257h2v1h-2zM69 268h2v1h-2zM74 272h2v1h-2zM106 293h2v1h-2zM104 294h2v1h-2zM101 296h2v1h-2zM97 298h3v1h-3zM93 300h3v1h-3zM373 184h3v1h-3zM175 172h2v1h-2zM225 171h4v1h-4zM219 170h6v1h-6zM229 170h2v1h-2zM195 169h3v1h-3zM217 169h2v1h-2zM180 168h5v1h-5zM190 168h5v1h-5zM198 168h3v1h-3zM214 168h3v1h-3zM232 168h2v1h-2zM185 167h5v1h-5zM201 167h2v1h-2zM209 167h5v1h-5zM234 167h2v1h-2zM203 166h6v1h-6zM307 150h2v1h-2zM252 148h10v1h-10zM303 148h3v1h-3zM262 147h2v1h-2zM264 146h3v1h-3zM296 146h6v1h-6zM267 145h2v1h-2zM291 145h5v1h-5zM269 144h3v1h-3zM286 144h5v1h-5zM283 143h3v1h-3zM273 142h3v1h-3zM278 142h5v1h-5zM276 141h2v1h-2zM707 86h2v1h-2zM703 84h3v1h-3zM710 84h2v1h-2zM692 82h10v1h-10zM713 82h2v1h-2zM718 78h2v1h-2zM721 76h2v1h-2zM724 74h10v1h-10zM734 73h2v1h-2zM788 73h2v1h-2zM736 72h3v1h-3zM785 72h3v1h-3zM790 72h5v1h-5zM739 71h2v1h-2zM795 71h3v1h-3zM683 70h2v1h-2zM741 70h2v1h-2zM781 70h3v1h-3zM798 70h5v1h-5zM755 69h5v1h-5zM779 69h2v1h-2zM803 69h17v1h-17zM679 68h3v1h-3zM744 68h2v1h-2zM752 68h3v1h-3zM760 68h9v1h-9zM774 68h5v1h-5zM746 67h2v1h-2zM750 67h2v1h-2zM769 67h5v1h-5zM675 66h3v1h-3zM748 66h2v1h-2zM660 64h3v1h-3zM671 64h3v1h-3zM663 63h3v1h-3zM666 62h4v1h-4zM4 200h1v1h-1zM25 200h1v1h-1zM157 200h1v1h-1zM357 200h1v2h-1zM428 199h1v2h-1zM5 198h1v2h-1zM24 197h1v3h-1zM158 199h1v1h-1zM324 199h1v1h-1zM333 199h1v1h-1zM358 199h1v1h-1zM159 198h1v1h-1zM323 196h1v3h-1zM359 198h1v1h-1zM6 196h1v2h-1zM160 197h1v1h-1zM360 196h1v2h-1zM425 197h1v1h-1zM545 197h1v1h-1zM23 196h1v1h-1zM161 196h1v1h-1zM424 196h1v1h-1zM7 194h1v2h-1zM22 193h1v3h-1zM162 195h1v1h-1zM322 193h1v3h-1zM361 195h1v1h-1zM423 195h1v1h-1zM163 194h1v1h-1zM362 194h1v1h-1zM8 193h1v1h-1zM164 192h1v2h-1zM363 192h1v2h-1zM9 191h1v2h-1zM21 192h1v1h-1zM321 190h1v3h-1zM20 191h1v1h-1zM165 190h1v2h-1zM364 191h1v1h-1zM576 191h1v1h-1zM10 189h1v2h-1zM365 190h1v1h-1zM18 189h1v1h-1zM166 188h1v2h-1zM320 188h1v2h-1zM366 189h1v1h-1zM580 189h1v1h-1zM11 187h1v2h-1zM367 188h1v1h-1zM581 188h1v1h-1zM14 187h1v1h-1zM167 186h1v2h-1zM319 185h1v3h-1zM368 187h1v1h-1zM582 187h1v1h-1zM369 186h1v1h-1zM583 186h1v1h-1zM26 201h1v3h-1zM156 201h1v1h-1zM336 201h1v1h-1zM429 201h1v2h-1zM356 202h1v1h-1zM152 203h1v1h-1zM339 203h1v1h-1zM355 203h1v1h-1zM430 203h1v2h-1zM27 204h1v1h-1zM340 204h1v1h-1zM354 204h1v1h-1zM531 204h1v2h-1zM28 205h1v1h-1zM148 205h1v2h-1zM341 205h1v1h-1zM353 205h1v1h-1zM431 205h1v2h-1zM352 206h1v1h-1zM530 206h1v1h-1zM147 207h1v2h-1zM344 207h1v1h-1zM351 207h1v1h-1zM432 207h1v2h-1zM529 207h1v1h-1zM350 208h1v1h-1zM528 208h1v2h-1zM146 209h1v2h-1zM347 209h1v1h-1zM349 209h1v1h-1zM433 209h1v2h-1zM36 210h1v2h-1zM348 210h1v1h-1zM527 210h1v1h-1zM145 211h1v2h-1zM434 211h1v2h-1zM526 211h1v1h-1zM37 212h1v4h-1zM525 212h1v2h-1zM144 213h1v2h-1zM435 213h1v2h-1zM143 215h1v2h-1zM436 215h1v2h-1zM38 216h1v4h-1zM142 217h1v2h-1zM437 217h1v2h-1zM141 219h1v2h-1zM438 219h1v2h-1zM511 219h1v1h-1zM39 220h1v5h-1zM140 221h1v3h-1zM439 221h1v1h-1zM508 221h1v1h-1zM440 222h1v2h-1zM507 222h1v2h-1zM139 224h1v2h-1zM441 224h1v1h-1zM506 224h1v1h-1zM40 225h1v4h-1zM442 225h1v2h-1zM505 225h1v1h-1zM138 226h1v2h-1zM504 226h1v2h-1zM443 227h1v2h-1zM137 228h1v2h-1zM503 228h1v1h-1zM41 229h1v5h-1zM444 229h1v2h-1zM502 229h1v1h-1zM136 230h1v2h-1zM501 230h1v2h-1zM445 231h1v2h-1zM135 232h1v2h-1zM500 232h1v2h-1zM446 233h1v2h-1zM42 234h1v4h-1zM134 234h1v2h-1zM499 234h1v2h-1zM447 235h1v2h-1zM133 236h1v2h-1zM498 236h1v2h-1zM448 237h1v2h-1zM43 238h1v4h-1zM132 238h1v2h-1zM497 238h1v2h-1zM449 239h1v2h-1zM131 240h1v2h-1zM496 240h1v2h-1zM450 241h1v2h-1zM44 242h1v2h-1zM130 242h1v2h-1zM495 242h1v2h-1zM451 243h1v2h-1zM129 244h1v1h-1zM494 244h1v2h-1zM53 245h1v1h-1zM128 245h1v2h-1zM452 245h1v2h-1zM54 246h1v2h-1zM493 246h1v2h-1zM127 247h1v1h-1zM55 248h1v1h-1zM126 248h1v2h-1zM492 248h1v1h-1zM56 249h1v1h-1zM457 249h1v1h-1zM57 250h1v1h-1zM125 250h1v2h-1zM58 251h1v2h-1zM460 251h1v1h-1zM124 252h1v1h-1zM461 252h1v1h-1zM59 253h1v1h-1zM123 253h1v2h-1zM462 253h1v1h-1zM60 254h1v1h-1zM61 255h1v2h-1zM122 255h1v2h-1zM465 255h1v1h-1zM473 255h1v1h-1zM466 256h1v1h-1zM62 257h1v2h-1zM121 257h1v2h-1zM467 257h1v1h-1zM468 258h1v1h-1zM63 259h1v1h-1zM120 259h1v1h-1zM64 260h1v2h-1zM119 260h1v2h-1zM65 262h1v1h-1zM118 262h1v2h-1zM66 263h1v2h-1zM117 264h1v2h-1zM67 265h1v2h-1zM116 266h1v2h-1zM68 267h1v1h-1zM115 268h1v3h-1zM71 269h1v1h-1zM72 270h1v1h-1zM73 271h1v1h-1zM114 271h1v4h-1zM76 273h1v2h-1zM77 275h1v2h-1zM113 275h1v3h-1zM78 277h1v3h-1zM112 278h1v3h-1zM79 280h1v2h-1zM111 281h1v3h-1zM80 282h1v3h-1zM110 284h1v4h-1zM81 285h1v2h-1zM82 287h1v3h-1zM109 288h1v3h-1zM83 290h1v2h-1zM108 291h1v2h-1zM84 292h1v2h-1zM85 294h1v1h-1zM86 295h1v1h-1zM103 295h1v1h-1zM87 296h1v1h-1zM88 297h1v1h-1zM100 297h1v1h-1zM89 298h1v1h-1zM90 299h1v1h-1zM96 299h1v1h-1zM91 300h1v1h-1zM92 301h1v1h-1zM168 183h1v3h-1zM370 185h1v1h-1zM376 185h1v1h-1zM584 184h1v2h-1zM318 182h1v3h-1zM371 184h1v1h-1zM372 183h1v1h-1zM585 183h1v1h-1zM169 181h1v2h-1zM586 182h1v1h-1zM317 179h1v3h-1zM587 181h1v1h-1zM170 179h1v2h-1zM588 180h1v1h-1zM589 179h1v1h-1zM171 177h1v2h-1zM316 176h1v3h-1zM590 177h1v2h-1zM172 175h1v2h-1zM591 176h1v1h-1zM315 172h1v4h-1zM592 175h1v1h-1zM173 174h1v1h-1zM593 174h1v1h-1zM174 173h1v1h-1zM594 172h1v2h-1zM177 171h1v1h-1zM314 169h1v3h-1zM595 171h1v1h-1zM178 170h1v1h-1zM596 170h1v1h-1zM179 169h1v1h-1zM231 169h1v1h-1zM597 169h1v1h-1zM313 166h1v3h-1zM598 167h1v2h-1zM236 166h1v1h-1zM599 166h1v1h-1zM237 165h1v1h-1zM312 162h1v4h-1zM600 165h1v1h-1zM238 164h1v1h-1zM601 164h1v1h-1zM239 163h1v1h-1zM602 162h1v2h-1zM240 162h1v1h-1zM241 161h1v1h-1zM311 159h1v3h-1zM603 161h1v1h-1zM242 160h1v1h-1zM604 160h1v1h-1zM243 159h1v1h-1zM605 158h1v2h-1zM244 158h1v1h-1zM310 156h1v3h-1zM245 157h1v1h-1zM606 156h1v2h-1zM246 155h1v2h-1zM309 152h1v4h-1zM607 155h1v1h-1zM247 154h1v1h-1zM608 153h1v2h-1zM248 153h1v1h-1zM249 152h1v1h-1zM609 152h1v1h-1zM250 150h1v2h-1zM308 151h1v1h-1zM610 150h1v2h-1zM251 149h1v1h-1zM306 149h1v1h-1zM611 148h1v2h-1zM302 147h1v1h-1zM612 146h1v2h-1zM613 143h1v3h-1zM272 143h1v1h-1zM614 140h1v3h-1zM615 137h1v3h-1zM616 134h1v3h-1zM617 131h1v3h-1zM618 128h1v3h-1zM619 125h1v3h-1zM620 123h1v2h-1zM621 122h1v1h-1zM622 121h1v1h-1zM623 120h1v1h-1zM624 118h1v2h-1zM625 117h1v1h-1zM626 116h1v1h-1zM627 115h1v1h-1zM628 114h1v1h-1zM629 112h1v2h-1zM630 110h1v2h-1zM631 109h1v1h-1zM632 107h1v2h-1zM633 106h1v1h-1zM634 104h1v2h-1zM635 102h1v2h-1zM636 101h1v1h-1zM637 99h1v2h-1zM638 97h1v2h-1zM639 96h1v1h-1zM640 94h1v2h-1zM641 93h1v1h-1zM642 91h1v2h-1zM643 89h1v2h-1zM644 88h1v1h-1zM645 86h1v2h-1zM646 84h1v2h-1zM706 85h1v1h-1zM709 85h1v1h-1zM647 83h1v1h-1zM702 83h1v1h-1zM712 83h1v1h-1zM648 81h1v2h-1zM691 80h1v2h-1zM715 81h1v1h-1zM649 80h1v1h-1zM716 80h1v1h-1zM650 78h1v2h-1zM690 79h1v1h-1zM717 79h1v1h-1zM689 77h1v2h-1zM651 76h1v2h-1zM720 77h1v1h-1zM688 76h1v1h-1zM652 75h1v1h-1zM687 74h1v2h-1zM723 75h1v1h-1zM653 73h1v2h-1zM686 73h1v1h-1zM654 72h1v1h-1zM685 71h1v2h-1zM655 71h1v1h-1zM784 71h1v1h-1zM656 69h1v2h-1zM682 69h1v1h-1zM743 69h1v1h-1zM657 68h1v1h-1zM658 67h1v1h-1zM678 67h1v1h-1zM659 65h1v2h-1zM674 65h1v1h-1zM670 63h1v1h-1z"/>
<path fill="#FFFF00" stroke="none" d="M44 237h2v1h-2zM461 234h2v1h-2zM456 230h2v1h-2zM508 226h2v1h-2zM510 225h2v1h-2zM152 224h2v1h-2zM512 224h3v1h-3zM515 223h3v1h-3zM12 222h2v1h-2zM27 222h4v1h-4zM518 222h3v1h-3zM31 221h3v1h-3zM521 221h2v1h-2zM15 220h3v1h-3zM23 220h3v1h-3zM34 220h3v1h-3zM523 220h2v1h-2zM19 218h3v1h-3zM526 218h2v1h-2zM46 238h5v1h-5zM466 238h2v1h-2zM51 239h2v1h-2zM468 239h2v1h-2zM53 240h2v1h-2zM470 240h3v1h-3zM473 241h2v1h-2zM481 241h7v1h-7zM56 242h2v1h-2zM475 242h6v1h-6zM488 242h5v1h-5zM58 243h2v1h-2zM71 256h2v1h-2zM92 281h2v1h-2zM94 282h3v1h-3zM97 283h2v1h-2zM105 283h4v1h-4zM99 284h6v1h-6zM529 216h2v1h-2zM532 214h2v1h-2zM535 212h3v1h-3zM539 210h3v1h-3zM543 208h3v1h-3zM547 206h6v1h-6zM553 205h5v1h-5zM558 204h5v1h-5zM563 203h3v1h-3zM566 202h3v1h-3zM569 201h2v1h-2zM571 200h3v1h-3zM575 198h3v1h-3zM427 196h2v1h-2zM579 196h2v1h-2zM348 195h4v1h-4zM581 195h2v1h-2zM346 194h2v1h-2zM352 194h6v1h-6zM423 194h3v1h-3zM583 194h2v1h-2zM359 192h3v1h-3zM416 192h6v1h-6zM586 192h2v1h-2zM409 191h7v1h-7zM180 190h2v1h-2zM341 190h2v1h-2zM363 190h3v1h-3zM402 190h7v1h-7zM387 189h5v1h-5zM399 189h3v1h-3zM183 188h3v1h-3zM338 188h2v1h-2zM367 188h3v1h-3zM382 188h5v1h-5zM392 188h7v1h-7zM591 188h2v1h-2zM377 187h5v1h-5zM187 186h3v1h-3zM335 186h2v1h-2zM371 186h6v1h-6zM333 185h2v1h-2zM191 184h3v1h-3zM331 184h2v1h-2zM329 183h2v1h-2zM195 182h3v1h-3zM326 182h3v1h-3zM198 181h2v1h-2zM324 181h2v1h-2zM200 180h3v1h-3zM600 180h2v1h-2zM203 179h3v1h-3zM206 178h5v1h-5zM216 178h6v1h-6zM211 177h5v1h-5zM222 177h2v1h-2zM224 176h3v1h-3zM227 175h3v1h-3zM230 174h5v1h-5zM235 173h2v1h-2zM237 172h2v1h-2zM240 170h2v1h-2zM242 169h2v1h-2zM252 160h3v1h-3zM255 159h3v1h-3zM258 158h4v1h-4zM263 156h3v1h-3zM267 154h3v1h-3zM270 153h2v1h-2zM272 152h3v1h-3zM306 152h3v1h-3zM275 151h5v1h-5zM303 151h3v1h-3zM280 150h23v1h-23zM661 92h2v1h-2zM666 88h2v1h-2zM706 88h3v1h-3zM668 87h2v1h-2zM692 87h4v1h-4zM703 87h3v1h-3zM709 87h2v1h-2zM670 86h5v1h-5zM689 86h3v1h-3zM696 86h7v1h-7zM711 86h2v1h-2zM675 85h3v1h-3zM678 84h5v1h-5zM685 84h3v1h-3zM714 84h2v1h-2zM683 83h2v1h-2zM716 83h2v1h-2zM718 82h3v1h-3zM721 81h2v1h-2zM723 80h6v1h-6zM729 79h5v1h-5zM734 78h3v1h-3zM737 77h2v1h-2zM739 76h3v1h-3zM743 74h3v1h-3zM753 73h7v1h-7zM787 73h5v1h-5zM747 72h6v1h-6zM760 72h9v1h-9zM782 72h5v1h-5zM792 72h9v1h-9zM769 71h13v1h-13zM801 71h15v1h-15zM816 70h4v1h-4zM4 237h1v1h-1zM142 237h1v2h-1zM465 237h1v1h-1zM497 237h1v1h-1zM5 235h1v2h-1zM44 236h1v1h-1zM143 236h1v1h-1zM464 236h1v1h-1zM498 236h1v1h-1zM43 234h1v2h-1zM144 234h1v2h-1zM463 235h1v1h-1zM499 235h1v1h-1zM6 233h1v2h-1zM500 234h1v1h-1zM42 232h1v2h-1zM145 233h1v1h-1zM460 233h1v1h-1zM501 233h1v1h-1zM7 231h1v2h-1zM146 231h1v2h-1zM459 232h1v1h-1zM502 232h1v1h-1zM41 230h1v2h-1zM458 231h1v1h-1zM503 231h1v1h-1zM8 229h1v2h-1zM147 229h1v2h-1zM504 230h1v1h-1zM40 228h1v2h-1zM455 229h1v1h-1zM505 229h1v1h-1zM9 227h1v2h-1zM148 228h1v1h-1zM454 228h1v1h-1zM506 228h1v1h-1zM39 226h1v2h-1zM149 227h1v1h-1zM453 227h1v1h-1zM507 227h1v1h-1zM10 225h1v2h-1zM150 226h1v1h-1zM452 226h1v1h-1zM38 224h1v2h-1zM151 225h1v1h-1zM451 224h1v2h-1zM11 223h1v2h-1zM37 222h1v2h-1zM154 223h1v1h-1zM450 223h1v1h-1zM155 222h1v1h-1zM449 221h1v2h-1zM14 221h1v1h-1zM26 221h1v1h-1zM36 221h1v1h-1zM156 221h1v1h-1zM157 220h1v1h-1zM448 220h1v1h-1zM18 219h1v1h-1zM22 219h1v1h-1zM158 219h1v1h-1zM447 218h1v2h-1zM525 219h1v1h-1zM159 218h1v1h-1zM496 238h1v1h-1zM141 239h1v2h-1zM495 239h1v1h-1zM494 240h1v1h-1zM55 241h1v1h-1zM140 241h1v1h-1zM493 241h1v1h-1zM139 242h1v2h-1zM60 244h1v1h-1zM138 244h1v1h-1zM61 245h1v1h-1zM137 245h1v1h-1zM62 246h1v1h-1zM136 246h1v2h-1zM63 247h1v1h-1zM64 248h1v2h-1zM135 248h1v1h-1zM134 249h1v1h-1zM65 250h1v1h-1zM133 250h1v2h-1zM66 251h1v1h-1zM67 252h1v1h-1zM132 252h1v1h-1zM68 253h1v1h-1zM131 253h1v1h-1zM69 254h1v1h-1zM130 254h1v1h-1zM70 255h1v1h-1zM129 255h1v1h-1zM128 256h1v2h-1zM73 257h1v1h-1zM74 258h1v1h-1zM127 258h1v1h-1zM75 259h1v1h-1zM126 259h1v1h-1zM76 260h1v1h-1zM125 260h1v1h-1zM77 261h1v2h-1zM124 261h1v1h-1zM123 262h1v2h-1zM78 263h1v2h-1zM122 264h1v1h-1zM79 265h1v1h-1zM121 265h1v2h-1zM80 266h1v2h-1zM120 267h1v1h-1zM81 268h1v1h-1zM119 268h1v2h-1zM82 269h1v2h-1zM118 270h1v1h-1zM83 271h1v2h-1zM117 271h1v2h-1zM84 273h1v1h-1zM116 273h1v1h-1zM85 274h1v1h-1zM115 274h1v1h-1zM86 275h1v1h-1zM114 275h1v2h-1zM87 276h1v1h-1zM88 277h1v1h-1zM113 277h1v1h-1zM89 278h1v1h-1zM112 278h1v1h-1zM90 279h1v1h-1zM111 279h1v1h-1zM91 280h1v1h-1zM110 280h1v2h-1zM109 282h1v1h-1zM160 216h1v2h-1zM446 217h1v1h-1zM528 217h1v1h-1zM445 215h1v2h-1zM161 215h1v1h-1zM531 215h1v1h-1zM162 214h1v1h-1zM444 214h1v1h-1zM163 213h1v1h-1zM443 213h1v1h-1zM534 213h1v1h-1zM164 212h1v1h-1zM442 212h1v1h-1zM165 210h1v2h-1zM441 211h1v1h-1zM538 211h1v1h-1zM440 210h1v1h-1zM166 209h1v1h-1zM439 209h1v1h-1zM542 209h1v1h-1zM167 207h1v2h-1zM438 208h1v1h-1zM437 207h1v1h-1zM546 207h1v1h-1zM168 206h1v1h-1zM436 206h1v1h-1zM169 204h1v2h-1zM435 205h1v1h-1zM434 203h1v2h-1zM170 203h1v1h-1zM171 201h1v2h-1zM433 202h1v1h-1zM432 201h1v1h-1zM172 200h1v1h-1zM431 200h1v1h-1zM173 199h1v1h-1zM430 198h1v2h-1zM574 199h1v1h-1zM174 197h1v2h-1zM429 197h1v1h-1zM578 197h1v1h-1zM175 196h1v1h-1zM176 195h1v1h-1zM426 195h1v1h-1zM177 194h1v1h-1zM178 192h1v2h-1zM345 193h1v1h-1zM358 193h1v1h-1zM422 193h1v1h-1zM585 193h1v1h-1zM344 192h1v1h-1zM179 191h1v1h-1zM343 191h1v1h-1zM362 191h1v1h-1zM588 191h1v1h-1zM589 190h1v1h-1zM182 189h1v1h-1zM340 189h1v1h-1zM366 189h1v1h-1zM590 189h1v1h-1zM186 187h1v1h-1zM337 187h1v1h-1zM370 187h1v1h-1zM593 187h1v1h-1zM594 186h1v1h-1zM190 185h1v1h-1zM595 185h1v1h-1zM596 184h1v1h-1zM194 183h1v1h-1zM597 183h1v1h-1zM598 182h1v1h-1zM599 181h1v1h-1zM323 179h1v2h-1zM602 179h1v1h-1zM322 177h1v2h-1zM603 178h1v1h-1zM604 177h1v1h-1zM321 176h1v1h-1zM605 175h1v2h-1zM320 174h1v2h-1zM606 173h1v2h-1zM319 173h1v1h-1zM318 171h1v2h-1zM607 172h1v1h-1zM239 171h1v1h-1zM608 170h1v2h-1zM317 169h1v2h-1zM609 169h1v1h-1zM244 168h1v1h-1zM316 167h1v2h-1zM610 167h1v2h-1zM245 167h1v1h-1zM246 166h1v1h-1zM315 166h1v1h-1zM611 165h1v2h-1zM247 165h1v1h-1zM314 163h1v3h-1zM248 164h1v1h-1zM612 163h1v2h-1zM249 163h1v1h-1zM250 162h1v1h-1zM313 162h1v1h-1zM613 162h1v1h-1zM251 161h1v1h-1zM312 159h1v3h-1zM614 159h1v3h-1zM311 158h1v1h-1zM615 158h1v1h-1zM262 157h1v1h-1zM310 155h1v3h-1zM616 155h1v3h-1zM266 155h1v1h-1zM309 154h1v1h-1zM617 154h1v1h-1zM308 153h1v1h-1zM618 151h1v3h-1zM619 150h1v1h-1zM620 148h1v2h-1zM621 146h1v2h-1zM622 145h1v1h-1zM623 144h1v1h-1zM624 142h1v2h-1zM625 141h1v1h-1zM626 140h1v1h-1zM627 138h1v2h-1zM628 137h1v1h-1zM629 136h1v1h-1zM630 135h1v1h-1zM631 134h1v1h-1zM632 132h1v2h-1zM633 131h1v1h-1zM634 130h1v1h-1zM635 129h1v1h-1zM636 128h1v1h-1zM637 127h1v1h-1zM638 125h1v2h-1zM639 124h1v1h-1zM640 123h1v1h-1zM641 122h1v1h-1zM642 120h1v2h-1zM643 119h1v1h-1zM644 118h1v1h-1zM645 116h1v2h-1zM646 114h1v2h-1zM647 113h1v1h-1zM648 111h1v2h-1zM649 110h1v1h-1zM650 108h1v2h-1zM651 106h1v2h-1zM652 105h1v1h-1zM653 103h1v2h-1zM654 102h1v1h-1zM655 100h1v2h-1zM656 99h1v1h-1zM657 97h1v2h-1zM658 96h1v1h-1zM659 94h1v2h-1zM660 93h1v1h-1zM663 91h1v1h-1zM664 90h1v1h-1zM665 89h1v1h-1zM688 85h1v1h-1zM713 85h1v1h-1zM742 75h1v1h-1zM746 73h1v1h-1z"/>
</g>
</g>
<g clip-path="url(#c2)" shape-rendering="crispEdges">
<rect x="4" y="477" width="1" height="20" fill="#C0C0C0"/>
<rect x="12" y="477" width="1" height="12" fill="#C0C0C0"/>
<rect x="20" y="477" width="1" height="10" fill="#C0C0C0"/>
<rect x="28" y="477" width="1" height="10" fill="#C0C0C0"/>
<rect x="36" y="477" width="1" height="9" fill="#C0C0C0"/>
<rect x="44" y="477" width="1" height="15" fill="#C0C0C0"/>
<rect x="52" y="477" width="1" height="14" fill="#C0C0C0"/>
<rect x="60" y="477" width="1" height="15" fill="#C0C0C0"/>
<rect x="68" y="477" width="1" height="18" fill="#C0C0C0"/>
<rect x="76" y="477" width="1" height="19" fill="#C0C0C0"/>
<rect x="84" y="477" width="1" height="24" fill="#C0C0C0"/>
<rect x="92" y="477" width="1" height="25" fill="#C0C0C0"/>
<rect x="100" y="477" width="1" height="25" fill="#C0C0C0"/>
<rect x="108" y="477" width="1" height="22" fill="#C0C0C0"/>
<rect x="116" y="477" width="1" height="17" fill="#C0C0C0"/>
<rect x="124" y="477" width="1" height="12" fill="#C0C0C0"/>
<rect x="132" y="477" width="1" height="8" fill="#C0C0C0"/>
<rect x="140" y="477" width="1" height="2" fill="#C0C0C0"/>
<rect x="148" y="474" width="1" height="4" fill="#C0C0C0"/>
<rect x="156" y="472" width="1" height="6" fill="#C0C0C0"/>
<rect x="164" y="468" width="1" height="10" fill="#C0C0C0"/>
<rect x="172" y="464" width="1" height="14" fill="#C0C0C0"/>
<rect x="180" y="461" width="1" height="17" fill="#C0C0C0"/>
<rect x="188" y="460" width="1" height="18" fill="#C0C0C0"/>
<rect x="196" y="460" width="1" height="18" fill="#C0C0C0"/>
<rect x="204" y="459" width="1" height="19" fill="#C0C0C0"/>
<rect x="212" y="459" width="1" height="19" fill="#C0C0C0"/>
<rect x="220" y="460" width="1" height="18" fill="#C0C0C0"/>
<rect x="228" y="460" width="1" height="18" fill="#C0C0C0"/>
<rect x="236" y="460" width="1" height="18" fill="#C0C0C0"/>
<rect x="244" y="460" width="1" height="18" fill="#C0C0C0"/>
<rect x="252" y="457" width="1" height="21" fill="#C0C0C0"/>
<rect x="260" y="458" width="1" height="20" fill="#C0C0C0"/>
<rect x="268" y="457" width="1" height="21" fill="#C0C0C0"/>
<rect x="276" y="457" width="1" height="21" fill="#C0C0C0"/>
<rect x="284" y="458" width="1" height="20" fill="#C0C0C0"/>
<rect x="292" y="459" width="1" height="19" fill="#C0C0C0"/>
<rect x="300" y="459" width="1" height="19" fill="#C0C0C0"/>
<rect x="308" y="462" width="1" height="16" fill="#C0C0C0"/>
<rect x="316" y="469" width="1" height="9" fill="#C0C0C0"/>
<rect x="324" y="475" width="1" height="3" fill="#C0C0C0"/>
<rect x="332" y="476" width="1" height="2" fill="#C0C0C0"/>
<rect x="340" y="476" width="1" height="2" fill="#C0C0C0"/>
<rect x="348" y="477" width="1" height="4" fill="#C0C0C0"/>
<rect x="356" y="477" width="1" height="4" fill="#C0C0C0"/>
<rect x="364" y="477" width="1" height="2" fill="#C0C0C0"/>
<rect x="380" y="476" width="1" height="2" fill="#C0C0C0"/>
<rect x="412" y="477" width="1" height="3" fill="#C0C0C0"/>
<rect x="420" y="477" width="1" height="3" fill="#C0C0C0"/>
<rect x="428" y="477" width="1" height="4" fill="#C0C0C0"/>
<rect x="436" y="477" width="1" height="8" fill="#C0C0C0"/>
<rect x="444" y="477" width="1" height="10" fill="#C0C0C0"/>
<rect x="452" y="477" width="1" height="15" fill="#C0C0C0"/>
<rect x="460" y="477" width="1" height="16" fill="#C0C0C0"/>
<rect x="468" y="477" width="1" height="19" fill="#C0C0C0"/>
<rect x="476" y="477" width="1" height="19" fill="#C0C0C0"/>
<rect x="484" y="477" width="1" height="17" fill="#C0C0C0"/>
<rect x="492" y="477" width="1" height="17" fill="#C0C0C0"/>
<rect x="500" y="477" width="1" height="11" fill="#C0C0C0"/>
<rect x="508" y="477" width="1" height="9" fill="#C0C0C0"/>
<rect x="516" y="477" width="1" height="7" fill="#C0C0C0"/>
<rect x="524" y="477" width="1" height="6" fill="#C0C0C0"/>
<rect x="532" y="477" width="1" height="2" fill="#C0C0C0"/>
<rect x="548" y="476" width="1" height="2" fill="#C0C0C0"/>
<rect x="556" y="476" width="1" height="2" fill="#C0C0C0"/>
<rect x="564" y="475" width="1" height="3" fill="#C0C0C0"/>
<rect x="572" y="475" width="1" height="3" fill="#C0C0C0"/>
<rect x="580" y="473" width="1" height="5" fill="#C0C0C0"/>
<rect x="588" y="471" width="1" height="7" fill="#C0C0C0"/>
<rect x="596" y="469" width="1" height="9" fill="#C0C0C0"/>
<rect x="604" y="466" width="1" height="12" fill="#C0C0C0"/>
<rect x="612" y="463" width="1" height="15" fill="#C0C0C0"/>
<rect x="620" y="457" width="1" height="21" fill="#C0C0C0"/>
<rect x="628" y="454" width="1" height="24" fill="#C0C0C0"/>
<rect x="636" y="451" width="1" height="27" fill="#C0C0C0"/>
<rect x="644" y="447" width="1" height="31" fill="#C0C0C0"/>
<rect x="652" y="444" width="1" height="34" fill="#C0C0C0"/>
<rect x="660" y="441" width="1" height="37" fill="#C0C0C0"/>
<rect x="668" y="441" width="1" height="37" fill="#C0C0C0"/>
<rect x="676" y="442" width="1" height="36" fill="#C0C0C0"/>
<rect x="684" y="444" width="1" height="34" fill="#C0C0C0"/>
<rect x="692" y="447" width="1" height="31" fill="#C0C0C0"/>
<rect x="700" y="449" width="1" height="29" fill="#C0C0C0"/>
<rect x="708" y="451" width="1" height="27" fill="#C0C0C0"/>
<rect x="716" y="452" width="1" height="26" fill="#C0C0C0"/>
<rect x="724" y="452" width="1" height="26" fill="#C0C0C0"/>
<rect x="732" y="453" width="1" height="25" fill="#C0C0C0"/>
<rect x="740" y="453" width="1" height="25" fill="#C0C0C0"/>
<rect x="748" y="453" width="1" height="25" fill="#C0C0C0"/>
<rect x="756" y="455" width="1" height="23" fill="#C0C0C0"/>
<rect x="764" y="456" width="1" height="22" fill="#C0C0C0"/>
<rect x="772" y="457" width="1" height="21" fill="#C0C0C0"/>
<rect x="780" y="459" width="1" height="19" fill="#C0C0C0"/>
<rect x="788" y="461" width="1" height="17" fill="#C0C0C0"/>
<rect x="796" y="462" width="1" height="16" fill="#C0C0C0"/>
<rect x="804" y="462" width="1" height="16" fill="#C0C0C0"/>
<rect x="812" y="463" width="1" height="15" fill="#C0C0C0"/>
<rect x="820" y="464" width="1" height="14" fill="#C0C0C0"/>
<path fill="#FF0000" stroke="none" d="M15 518h2v1h-2zM32 504h2v1h-2zM39 500h2v1h-2zM44 497h2v1h-2zM110 497h3v1h-3zM116 497h3v1h-3zM104 496h3v1h-3zM122 496h3v1h-3zM128 496h3v1h-3zM134 495h2v1h-2zM51 494h2v1h-2zM98 494h3v1h-3zM56 492h3v1h-3zM80 492h3v1h-3zM86 492h3v1h-3zM500 492h3v1h-3zM506 492h3v1h-3zM512 492h3v1h-3zM518 492h3v1h-3zM62 491h3v1h-3zM68 491h3v1h-3zM74 491h3v1h-3zM147 491h2v1h-2zM494 491h2v1h-2zM524 491h2v1h-2zM92 493h3v1h-3zM140 493h2v1h-2zM482 489h3v1h-3zM531 489h2v1h-2zM153 488h2v1h-2zM476 488h3v1h-3zM536 488h3v1h-3zM158 486h2v1h-2zM542 486h3v1h-3zM464 485h2v1h-2zM548 485h2v1h-2zM164 483h2v1h-2zM452 482h3v1h-3zM555 482h2v1h-2zM447 481h2v1h-2zM560 481h2v1h-2zM171 480h2v1h-2zM440 480h3v1h-3zM176 478h2v1h-2zM386 478h3v1h-3zM572 478h3v1h-3zM380 477h3v1h-3zM578 477h3v1h-3zM590 475h2v1h-2zM183 474h2v1h-2zM368 474h3v1h-3zM596 474h3v1h-3zM188 472h2v1h-2zM602 472h3v1h-3zM356 471h2v1h-2zM609 471h2v1h-2zM614 470h3v1h-3zM195 469h2v1h-2zM350 469h2v1h-2zM345 467h2v1h-2zM201 466h2v1h-2zM626 466h3v1h-3zM206 464h3v1h-3zM632 464h3v1h-3zM212 462h3v1h-3zM326 462h3v1h-3zM638 462h3v1h-3zM218 461h3v1h-3zM224 460h3v1h-3zM230 460h3v1h-3zM320 460h3v1h-3zM644 460h2v1h-2zM236 459h3v1h-3zM242 459h3v1h-3zM248 458h3v1h-3zM254 458h3v1h-3zM260 458h3v1h-3zM266 458h3v1h-3zM272 458h3v1h-3zM278 458h3v1h-3zM284 458h3v1h-3zM290 458h3v1h-3zM296 458h3v1h-3zM302 458h3v1h-3zM308 458h3v1h-3zM314 458h3v1h-3zM812 458h3v1h-3zM332 463h2v1h-2zM339 465h2v1h-2zM363 473h2v1h-2zM374 476h3v1h-3zM584 476h3v1h-3zM393 479h2v1h-2zM398 479h3v1h-3zM404 479h3v1h-3zM410 479h3v1h-3zM416 479h3v1h-3zM422 479h3v1h-3zM428 479h3v1h-3zM434 479h3v1h-3zM567 479h2v1h-2zM458 484h3v1h-3zM471 487h2v1h-2zM488 490h3v1h-3zM620 468h3v1h-3zM651 457h2v1h-2zM801 457h2v1h-2zM806 457h2v1h-2zM788 455h3v1h-3zM657 454h2v1h-2zM782 454h3v1h-3zM662 452h3v1h-3zM764 452h3v1h-3zM758 451h2v1h-2zM669 450h2v1h-2zM752 450h3v1h-3zM674 448h2v1h-2zM740 448h3v1h-3zM746 448h3v1h-3zM734 447h2v1h-2zM680 446h3v1h-3zM728 446h3v1h-3zM686 445h3v1h-3zM692 445h3v1h-3zM716 445h3v1h-3zM722 445h3v1h-3zM698 444h3v1h-3zM704 444h3v1h-3zM710 444h3v1h-3zM770 453h3v1h-3zM776 453h3v1h-3zM794 456h3v1h-3zM4 531h1v1h-1zM5 530h1v1h-1zM6 529h1v1h-1zM9 525h1v1h-1zM10 523h1v2h-1zM14 519h1v1h-1zM20 514h1v1h-1zM21 513h1v1h-1zM22 512h1v1h-1zM26 509h1v1h-1zM27 508h1v1h-1zM28 507h1v1h-1zM34 503h1v1h-1zM38 501h1v1h-1zM46 496h1v1h-1zM50 495h1v1h-1zM136 494h1v1h-1zM142 492h1v1h-1zM146 492h1v1h-1zM496 492h1v1h-1zM152 489h1v1h-1zM466 486h1v1h-1zM470 486h1v1h-1zM160 485h1v1h-1zM554 483h1v1h-1zM166 482h1v1h-1zM170 481h1v1h-1zM446 480h1v1h-1zM562 480h1v1h-1zM566 480h1v1h-1zM392 478h1v1h-1zM178 477h1v1h-1zM182 475h1v1h-1zM592 474h1v1h-1zM358 472h1v1h-1zM362 472h1v1h-1zM608 472h1v1h-1zM190 471h1v1h-1zM194 470h1v1h-1zM352 470h1v1h-1zM200 467h1v1h-1zM344 466h1v1h-1zM334 464h1v1h-1zM338 464h1v1h-1zM646 459h1v1h-1zM650 458h1v1h-1zM808 458h1v1h-1zM550 484h1v1h-1zM526 490h1v1h-1zM530 490h1v1h-1zM656 455h1v1h-1zM760 452h1v1h-1zM668 451h1v1h-1zM736 448h1v1h-1zM676 447h1v1h-1zM800 456h1v1h-1z"/>
</g>
<path d="M7 9h7l-3.5 4z" fill="#fff" shape-rendering="crispEdges"/>
<text class="t" x="19" y="14" textLength="30" lengthAdjust="spacingAndGlyphs">LLG,H4</text>
<text class="t" x="55.6" y="14" textLength="32.2" lengthAdjust="spacingAndGlyphs">5183.34</text>
<text class="t" x="91.3" y="14" textLength="32.2" lengthAdjust="spacingAndGlyphs">5184.81</text>
<text class="t" x="127" y="14" textLength="32.2" lengthAdjust="spacingAndGlyphs">5181.12</text>
<text class="t" x="163.3" y="14" textLength="32.2" lengthAdjust="spacingAndGlyphs">5181.45</text>
<text class="t" x="8.5" y="446.9" textLength="65.8" lengthAdjust="spacingAndGlyphs">MACD(12,26,9)</text>
<text class="t" x="77.4" y="446.9" textLength="27.6" lengthAdjust="spacingAndGlyphs">22.868</text>
<text class="t" x="108.8" y="446.9" textLength="26.8" lengthAdjust="spacingAndGlyphs">29.639</text>
<text class="t" x="938" y="37" textLength="33" lengthAdjust="spacingAndGlyphs">5234.80</text>
<text class="t" x="938" y="70" textLength="33" lengthAdjust="spacingAndGlyphs">5185.50</text>
<text class="t" x="938" y="103" textLength="33" lengthAdjust="spacingAndGlyphs">5136.20</text>
<text class="t" x="938" y="136" textLength="33" lengthAdjust="spacingAndGlyphs">5086.90</text>
<text class="t" x="938" y="169" textLength="33" lengthAdjust="spacingAndGlyphs">5037.60</text>
<text class="t" x="938" y="202" textLength="33" lengthAdjust="spacingAndGlyphs">4988.30</text>
<text class="t" x="938" y="235" textLength="33" lengthAdjust="spacingAndGlyphs">4939.00</text>
<text class="t" x="938" y="268" textLength="33" lengthAdjust="spacingAndGlyphs">4889.70</text>
<text class="t" x="938" y="301" textLength="33" lengthAdjust="spacingAndGlyphs">4840.40</text>
<text class="t" x="938" y="334" textLength="33" lengthAdjust="spacingAndGlyphs">4791.10</text>
<text class="t" x="938" y="367" textLength="33" lengthAdjust="spacingAndGlyphs">4741.80</text>
<text class="t" x="938" y="400" textLength="33" lengthAdjust="spacingAndGlyphs">4693.95</text>
<text class="t" x="938" y="433" textLength="33" lengthAdjust="spacingAndGlyphs">4644.65</text>
<rect x="934" y="64" width="41" height="11" fill="#fff" shape-rendering="crispEdges"/>
<rect x="932" y="69" width="1" height="1" fill="#000" shape-rendering="crispEdges"/>
<text class="t" x="938" y="73" textLength="33" lengthAdjust="spacingAndGlyphs" style="fill:#000">5181.45</text>
<text class="t" x="936" y="445" textLength="22.8" lengthAdjust="spacingAndGlyphs">68.22</text>
<text class="t" x="936.5" y="481" textLength="17" lengthAdjust="spacingAndGlyphs">0.00</text>
<text class="t" x="936.3" y="534" textLength="30.6" lengthAdjust="spacingAndGlyphs">-97.736</text>
<g>
<defs><linearGradient id="sv" x1="0" y1="1" x2="1" y2="0"><stop offset="0" stop-color="#f4f4f4"/><stop offset="0.5" stop-color="#b4b4b4"/><stop offset="1" stop-color="#8c8c8c"/></linearGradient>
<linearGradient id="gd" x1="0" y1="0" x2="1" y2="1"><stop offset="0" stop-color="#d8c020"/><stop offset="1" stop-color="#f0dc30"/></linearGradient></defs>
<polygon points="879.9,519.4 892.7,506.6 892.7,511.1 884.4,519.4" fill="url(#sv)"/>
<polygon points="892.7,506.6 905.5,519.4 901.0,519.4 892.7,511.1" fill="#5e5e5e"/>
<polygon points="879.9,519.4 892.7,532.2 892.7,527.7 884.4,519.4" fill="url(#gd)"/>
<polygon points="892.7,532.2 905.5,519.4 901.0,519.4 892.7,527.7" fill="#54401a"/>
<polygon points="884.4,519.4 892.7,511.1 892.7,514.4 887.7,519.4" fill="#2a2a2a"/>
<polygon points="892.7,511.1 901.0,519.4 897.7,519.4 892.7,514.4" fill="#ececec"/>
<polygon points="884.4,519.4 892.7,527.7 892.7,524.4 887.7,519.4" fill="#7a5a1e"/>
<polygon points="892.7,527.7 901.0,519.4 897.7,519.4 892.7,524.4" fill="#8a7420"/>
<polygon points="887.7,519.4 892.7,514.4 897.7,519.4 892.7,524.4" fill="#000"/>
<path d="M889.5 519.4L892.7 516.1999999999999L895.9000000000001 519.4L892.7 522.6Z" fill="none" stroke="#86bc2c" stroke-width="1.5"/>
<text x="911" y="517.2" textLength="58" lengthAdjust="spacingAndGlyphs" style="font-family:'Liberation Sans',sans-serif;font-weight:bold;font-size:9.6px;fill:#fff;stroke:#fff;stroke-width:0.35px">SiNO SOUND</text>
<rect x="917.5" y="510.6" width="1.6" height="1.3" fill="#7ac020"/>
<text class="cj" x="911.2 927.6 943.9 960.2" y="527.1">漢聲集團</text>
</g>
</svg>
</body></html>
